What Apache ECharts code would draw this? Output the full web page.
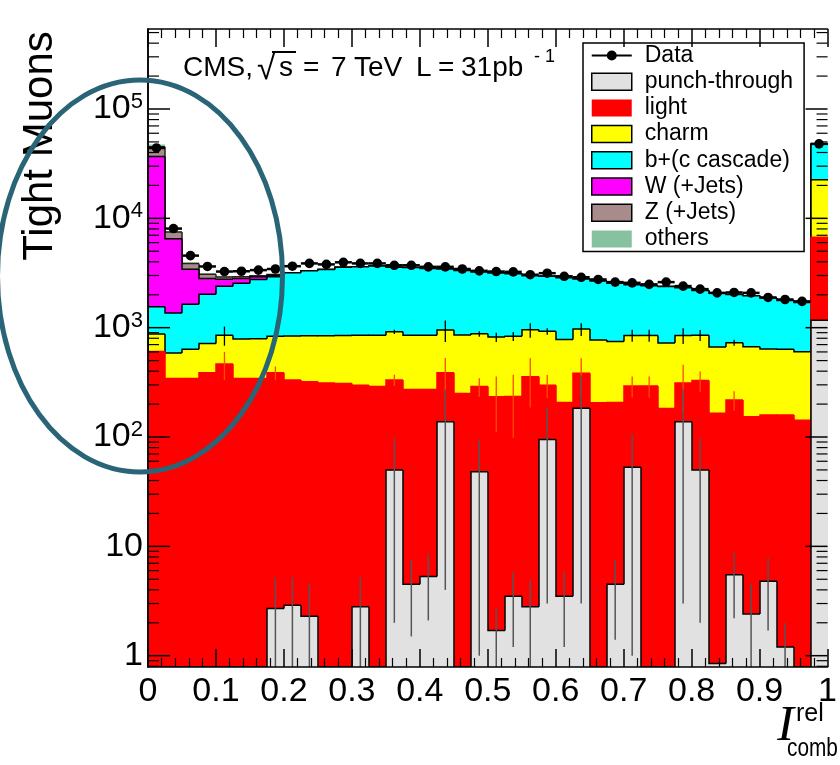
<!DOCTYPE html>
<html>
<head>
<meta charset="utf-8">
<script src="https://cdn.jsdelivr.net/npm/echarts@6/dist/echarts.min.js"></script>
<style>
html,body{margin:0;padding:0;background:#fff;}
#chart{width:840px;height:765px;}
</style>
</head>
<body>
<div id="chart"></div>
<script>
// ---------------- data (40 bins of width 0.025, last bin holds overflow) ----------------
const binWidth = 0.025;
const binLowEdges = [0,0.025,0.05,0.075,0.1,0.125,0.15,0.175,0.2,0.225,
  0.25,0.275,0.3,0.325,0.35,0.375,0.4,0.425,0.45,0.475,
  0.5,0.525,0.55,0.575,0.6,0.625,0.65,0.675,0.7,0.725,
  0.75,0.775,0.8,0.825,0.85,0.875,0.9,0.925,0.95,0.975];
const xTickLabels = ['0','0.1','0.2','0.3','0.4','0.5','0.6','0.7','0.8','0.9','1'];
const yMajorTicks = [1, 10, 100, 1000, 10000, 100000];

const punchThrough = [0,0,0,0,0,0,0,2.7,2.9,2.3, 0,0,2.8,0,50,4.5,5.3,138,0,48,
  1.7,3.5,2.8,95,3.5,183,0,4.5,53,0, 0,138,50,0.85,5.5,2.4,4.8,1.2,0,1170];
const punchThroughErr = [0,0,0,0,0,0,0,2.4,2.3,2.3, 0,0,2.4,0,48,3,3.2,134,0,47,
  1,2.3,2.1,92,2.3,180,0,3.1,52,0, 0,135,48,0,3.3,2.2,3.1,0.8,0,0];
const light = [605,343,343,387,466,343,343,384,329,318, 312,308,295,289,282,268,267,249,250,241,
  232,231,353,203,203,199,206,202,240,293, 182,174,278,164,212,151,154,158,142,5530];
const lightErr = [0,0,0,0,134,0,0,54,0,0, 0,0,0,0,40,0,0,140,0,56,
  123,136,170,72,0,144,0,0,64,64, 0,145,70,0,44,0,0,0,0,0];
const charm = [268,244,292,331,388,443,448,447,507,524, 532,541,556,565,585,582,582,564,605,589,
  586,600,599,628,575,588,565,541,556,556, 541,537,526,502,511,516,481,476,459,15800];
const charmErr = [0,0,0,0,170,0,0,0,0,0, 0,0,0,0,40,0,0,210,0,50,
  80,80,144,63,0,129,0,0,106,106, 0,140,100,0,45,0,0,0,0,0];
const bCascade = [677,778,1005,1307,1541,1764,1969,2081,2336,2466, 2561,2711,2746,2806,2653,2696,2621,2484,2475,2357,
  2335,2281,2035,2029,2074,1810,1894,1803,1621,1566, 1662,1466,1336,1408,1282,1291,1225,1140,1099,25000];
const wJets = [35250,5155,1790,795,375,270,160,95,0,0, 0,0,0,0,0,0,0,0,0,0,
  0,0,0,0,0,0,0,0,0,0, 0,0,0,0,0,0,0,0,0,0];
const zJets = [8400,970,430,260,130,100,70,50,0,0, 0,0,0,0,0,0,0,0,0,0,
  0,0,0,0,0,0,0,0,0,0, 0,0,0,0,0,0,0,0,0,0];
const others = [2200,130,90,50,50,0,0,0,0,0, 0,0,0,0,0,0,0,0,0,0,
  0,0,0,0,0,0,0,0,0,0, 0,0,0,0,0,0,0,0,0,0];
const dataCounts = [44000,8060,4560,3630,3260,3280,3360,3440,3650,3870, 3790,3960,3870,3870,3720,3720,3600,3600,3440,3310,
  3260,3240,3050,3150,2950,2890,2760,2610,2570,2490, 2610,2400,2250,2080,2100,2080,1890,1810,1740,48000];

const componentNames = ['punch-through','light','charm','b+(c cascade)','W (+Jets)','Z (+Jets)','others'];
const components = [punchThrough, light, charm, bCascade, wJets, zJets, others];
const fillColors = ['#e1e1e1','#ff0000','#ffff00','#00ffff','#ff00ff','#a88c8c','#86c1a0'];
const lineColors = ['#000','#ff0000','#000','#000','#000','#2a2020',null];

const Y_MIN = 0.788, Y_MAX = 5.39e5;
const FONT = 'Liberation Sans, Arial, sans-serif';

// cumulative stack (bottom -> top)
const cumulative = [];
let running = binLowEdges.map(() => 0);
components.forEach(c => { running = running.map((r, i) => r + c[i]); cumulative.push(running.slice()); });

function histData(k) {
  return binLowEdges.map((lo, i) => [i, lo, lo + binWidth,
    Math.max(cumulative[k][i], 1e-3), i > 0 ? Math.max(cumulative[k][i - 1], 1e-3) : 1e-3]);
}

function histRender(fill, stroke) {
  return function (params, api) {
    const cs = params.coordSys;
    const bottom = cs.y + cs.height;
    const top = api.value(3), prev = api.value(4);
    const px0 = Math.round(api.coord([api.value(1), 1])[0]);
    const px1 = Math.round(api.coord([api.value(2), 1])[0]);
    const yTop = top > Y_MIN ? api.coord([api.value(1), top])[1] : bottom;
    const yPrev = prev > Y_MIN ? api.coord([api.value(1), prev])[1] : bottom;
    const children = [{
      type: 'rect', shape: { x: px0, y: yTop, width: px1 - px0, height: bottom - yTop },
      style: { fill: fill, stroke: null }
    }];
    if (stroke) {
      children.push({
        type: 'polyline', shape: { points: [[px0, yPrev], [px0, yTop], [px1, yTop]] },
        style: { stroke: stroke, lineWidth: 1.5, fill: null }
      });
    }
    return { type: 'group', children: children };
  };
}

function errRender(color, width) {
  return function (params, api) {
    const v = api.value(1), e = api.value(2);
    if (v <= Y_MIN || e <= 0) return null;
    const cs = params.coordSys, bottom = cs.y + cs.height;
    const x = api.coord([api.value(0), v])[0];
    const yHi = api.coord([api.value(0), v + e])[1];
    const yLo = (v - e) > Y_MIN ? api.coord([api.value(0), v - e])[1] : bottom;
    return { type: 'line', shape: { x1: x, y1: yHi, x2: x, y2: yLo }, style: { stroke: color, lineWidth: width } };
  };
}

const series = [];
for (let k = components.length - 1; k >= 0; k--) {
  series.push({
    type: 'custom', name: componentNames[k], xAxisIndex: 0, yAxisIndex: 0,
    encode: { x: [1, 2], y: 3 }, clip: true,
    itemStyle: { color: fillColors[k] },
    renderItem: histRender(fillColors[k], lineColors[k]),
    data: histData(k)
  });
}

// MC statistical uncertainties (drawn at the cumulative tops)
series.push({
  type: 'custom', name: 'charmErr', xAxisIndex: 0, yAxisIndex: 0, clip: true, encode: { x: 0, y: 1 },
  data: binLowEdges.map((lo, i) => [lo + binWidth / 2, cumulative[2][i], charmErr[i]]),
  renderItem: errRender('#000', 1.3)
});
series.push({
  type: 'custom', name: 'lightErr', xAxisIndex: 0, yAxisIndex: 0, clip: true, encode: { x: 0, y: 1 },
  data: binLowEdges.map((lo, i) => [lo + binWidth / 2, cumulative[1][i], lightErr[i]]),
  renderItem: errRender('#ff4a00', 1.3)
});
series.push({
  type: 'custom', name: 'ptErr', xAxisIndex: 0, yAxisIndex: 0, clip: true, encode: { x: 0, y: 1 },
  data: binLowEdges.map((lo, i) => [lo + binWidth / 2, Math.max(punchThrough[i], 1e-3), punchThroughErr[i]]),
  renderItem: errRender('#555', 1.5)
});

// data points
series.push({
  type: 'custom', name: 'Data', xAxisIndex: 0, yAxisIndex: 0, clip: true,
  encode: { x: [0, 1], y: 2 },
  itemStyle: { color: '#000' },
  data: binLowEdges.map((lo, i) => [lo, lo + binWidth, dataCounts[i]]),
  renderItem: function (params, api) {
    const v = api.value(2);
    const a = api.coord([api.value(0), v]);
    const b = api.coord([api.value(1), v]);
    const cx = (a[0] + b[0]) / 2;
    const s = Math.sqrt(v);
    const yHi = api.coord([api.value(0), v + s])[1];
    const yLo = api.coord([api.value(0), v - s])[1];
    return { type: 'group', children: [
      { type: 'line', shape: { x1: a[0], y1: a[1], x2: b[0], y2: a[1] }, style: { stroke: '#000', lineWidth: 2.5 } },
      { type: 'line', shape: { x1: cx, y1: yHi, x2: cx, y2: yLo }, style: { stroke: '#000', lineWidth: 2 } },
      { type: 'circle', shape: { cx: cx, cy: a[1], r: 4.8 }, style: { fill: '#000' } }
    ] };
  }
});

// log ticks (major at decades, minor 2..9 per decade) on left and right frame, inside
const yTickList = yMajorTicks.map(v => [0, v, 22]);
for (let e = -1; e <= 5; e++) {
  for (let m = 2; m <= 9; m++) {
    const v = m * Math.pow(10, e);
    if (v > Y_MIN && v < Y_MAX) yTickList.push([0, v, 11]);
  }
}
series.push({
  type: 'custom', name: 'yTicks', xAxisIndex: 0, yAxisIndex: 0, silent: true, z: 12,
  encode: { x: 0, y: 1 },
  data: yTickList,
  renderItem: function (params, api) {
    const cs = params.coordSys;
    const y = api.coord([0, api.value(1)])[1];
    const len = api.value(2);
    const w = len > 15 ? 1.5 : 1.2;
    return { type: 'group', children: [
      { type: 'line', shape: { x1: cs.x, y1: y, x2: cs.x + len, y2: y }, style: { stroke: '#000', lineWidth: w } },
      { type: 'line', shape: { x1: cs.x + cs.width - len, y1: y, x2: cs.x + cs.width, y2: y }, style: { stroke: '#000', lineWidth: w } }
    ] };
  }
});

function yLabel(v) {
  const l = Math.log10(v);
  const e = Math.round(l);
  if (Math.abs(l - e) > 1e-6) return '';
  if (e === 0) return '1';
  if (e === 1) return '10';
  return '10{sup|' + e + '}';
}

const axisLine = { show: true, lineStyle: { color: '#000', width: 1.5 } };

const dataIcon = 'path://M0,0L0.01,0L0,0.01ZM0,7.5L40,7.5L40,9.5L0,9.5ZM15,8.5A5,5,0,1,1,25,8.5A5,5,0,1,1,15,8.5ZM0,17L0.01,17L0,16.99Z';

function txt(text, x, y, size, extra) {
  return Object.assign({ type: 'text', x: x, y: y, z: 50,
    style: { text: text, font: size + 'px ' + FONT, fill: '#000', verticalAlign: 'middle' } }, extra || {});
}

const option = {
  animation: false,
  backgroundColor: '#fff',
  grid: { left: 148, right: 10, top: 29, bottom: 98, containLabel: false },
  xAxis: [{
    type: 'value', min: 0, max: 1, interval: 0.1, position: 'bottom', z: 10,
    axisLine: axisLine,
    axisTick: { show: true, inside: true, length: 18, lineStyle: { color: '#000', width: 1.5 } },
    minorTick: { show: true, splitNumber: 5, length: 9, lineStyle: { color: '#000', width: 1.2 } },
    splitLine: { show: false },
    axisLabel: { margin: 8, fontSize: 34, color: '#000', fontFamily: FONT,
      formatter: v => xTickLabels[Math.round(v * 10)] }
  }, {
    type: 'value', min: 0, max: 1, interval: 0.1, position: 'top', z: 10,
    axisLine: axisLine,
    axisTick: { show: true, inside: true, length: 18, lineStyle: { color: '#000', width: 1.5 } },
    minorTick: { show: true, splitNumber: 5, length: 9, lineStyle: { color: '#000', width: 1.2 } },
    splitLine: { show: false }, axisLabel: { show: false }
  }],
  yAxis: [{
    type: 'log', logBase: 10, min: Y_MIN, max: Y_MAX, position: 'left', z: 10,
    axisLine: axisLine,
    axisTick: { show: false },
    splitLine: { show: false },
    axisLabel: { margin: 5, fontSize: 34, color: '#000', fontFamily: FONT,
      showMinLabel: false, showMaxLabel: false,
      formatter: yLabel,
      rich: { sup: { fontSize: 22, fontFamily: FONT, color: '#000', verticalAlign: 'top', padding: [0, 0, 14, 0] } } }
  }, {
    type: 'log', logBase: 10, min: Y_MIN, max: Y_MAX, position: 'right', z: 10,
    axisLine: axisLine,
    axisTick: { show: false },
    splitLine: { show: false }, axisLabel: { show: false }
  }],
  legend: {
    orient: 'vertical', left: 583, top: 43,
    padding: [1, 11, 1, 8],
    itemWidth: 40, itemHeight: 17, itemGap: 3.2,
    backgroundColor: '#fff', borderColor: '#000', borderWidth: 1.5,
    selectedMode: false,
    textStyle: { fontSize: 23, color: '#000', fontFamily: FONT, padding: [0, 0, 0, 8] },
    data: [
      { name: 'Data', icon: dataIcon, itemStyle: { color: '#000', borderWidth: 0 } },
      { name: 'punch-through', icon: 'rect', itemStyle: { color: fillColors[0], borderColor: '#000', borderWidth: 1.5 } },
      { name: 'light', icon: 'rect', itemStyle: { color: fillColors[1], borderWidth: 0 } },
      { name: 'charm', icon: 'rect', itemStyle: { color: fillColors[2], borderColor: '#000', borderWidth: 1.5 } },
      { name: 'b+(c cascade)', icon: 'rect', itemStyle: { color: fillColors[3], borderColor: '#000', borderWidth: 1.5 } },
      { name: 'W (+Jets)', icon: 'rect', itemStyle: { color: fillColors[4], borderColor: '#000', borderWidth: 1.5 } },
      { name: 'Z (+Jets)', icon: 'rect', itemStyle: { color: fillColors[5], borderColor: '#000', borderWidth: 1.5 } },
      { name: 'others', icon: 'rect', itemStyle: { color: fillColors[6], borderWidth: 0 } }
    ]
  },
  graphic: [
    { type: 'text', x: 40, y: 146, rotation: Math.PI / 2, z: 50,
      style: { text: 'Tight Muons', font: '42px ' + FONT, fill: '#000', align: 'center', verticalAlign: 'middle' } },
    // CMS label, piece by piece
    txt('CMS,', 183, 68, 28),
    txt('\u221A', 257, 70, 33),
    txt('s', 279, 68, 28),
    { type: 'line', z: 50, shape: { x1: 272, y1: 52, x2: 296, y2: 52 }, style: { stroke: '#000', lineWidth: 2 } },
    txt('=', 303, 68, 28),
    txt('7', 331, 68, 28),
    txt('TeV', 354, 68, 28),
    txt('L', 416, 68, 28),
    txt('=', 438, 68, 28),
    txt('31pb', 461, 68, 28),
    txt('- 1', 534, 57, 18),
    // x axis title
    { type: 'text', x: 794, y: 752, z: 50,
      style: { text: 'I', font: 'italic 50px Liberation Serif, serif', fill: '#000', align: 'right', verticalAlign: 'bottom' } },
    { type: 'text', x: 796, y: 727, z: 50,
      style: { text: 'rel', font: '25px ' + FONT, fill: '#000', verticalAlign: 'bottom' } },
    { type: 'text', x: 787, y: 762, z: 50, scaleX: 0.8,
      style: { text: 'comb', font: '26px ' + FONT, fill: '#000', verticalAlign: 'bottom' } },
    { type: 'ellipse', z: 100, shape: { cx: 140, cy: 276, rx: 142.5, ry: 196 },
      style: { fill: 'none', stroke: '#2a6577', lineWidth: 5 } }
  ],
  series: series
};

const chart = echarts.init(document.getElementById('chart'), null, { renderer: 'canvas' });
chart.setOption(option);
</script>
</body>
</html>
